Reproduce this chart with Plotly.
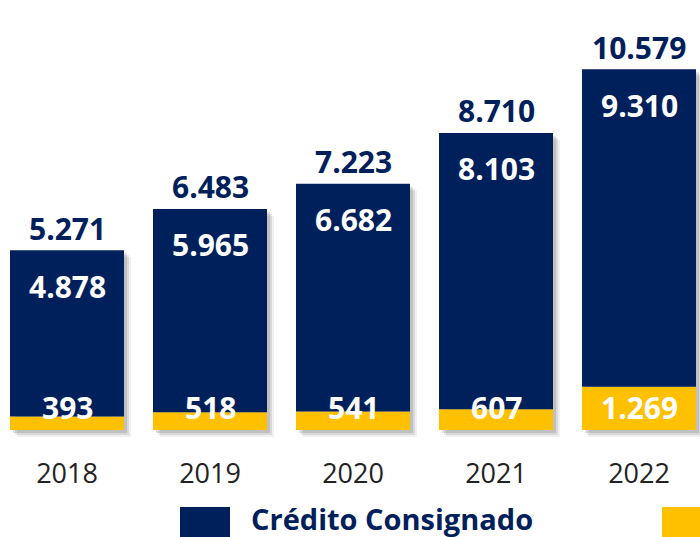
import plotly.graph_objects as go

years = ["2018", "2019", "2020", "2021", "2022"]
consignado = [4878, 5965, 6682, 8103, 9310]
outros = [393, 518, 541, 607, 1269]
totais = [5271, 6483, 7223, 8710, 10579]

def fmt(v):
    return f"{v:,}".replace(",", ".")

NAVY = "#00205B"
YELLOW = "#FFC000"
FONT = "Open Sans"

W, H = 700, 537
mb = 90
plot_h = H - mb
zero_px = 430          # pixel row of value 0
scale = 0.0341         # px per unit
ymin = -(plot_h - zero_px) / scale
ymax = zero_px / scale

cat_w = 143.0
first_c = 67.0
xr = [-first_c / cat_w, (W - first_c) / cat_w]
bw = 114 / cat_w

fig = go.Figure()

# drop shadow layers
for k, (dpx, op) in enumerate([(7, 0.08), (5, 0.12), (3, 0.16)]):
    d = dpx / scale
    fig.add_trace(go.Bar(
        x=years, y=totais, base=[-d] * len(years), width=bw,
        offset=-bw / 2 + dpx / cat_w,
        marker=dict(color=f"rgba(60,60,60,{op})", line=dict(width=0)),
        hoverinfo="skip", showlegend=False))

fig.add_trace(go.Bar(
    x=years, y=outros, base=[0] * len(years), width=bw, offset=-bw / 2,
    marker=dict(color=YELLOW, line=dict(width=0)), name="Outros", showlegend=False))
fig.add_trace(go.Bar(
    x=years, y=consignado, base=outros, width=bw, offset=-bw / 2,
    marker=dict(color=NAVY, line=dict(width=0)), name="Crédito Consignado", showlegend=False))

LBL = 30
ann = []
for i, yv in enumerate(years):
    ann.append(dict(x=i, y=totais[i], text=fmt(totais[i]), showarrow=False,
                    yanchor="middle", yshift=22,
                    font=dict(family=FONT, size=LBL, color=NAVY, weight="bold")))
    ann.append(dict(x=i, y=totais[i], text=fmt(consignado[i]), showarrow=False,
                    yanchor="middle", yshift=-36,
                    font=dict(family=FONT, size=LBL, color="white", weight="bold")))
    ann.append(dict(x=i, y=0, text=fmt(outros[i]), showarrow=False,
                    yanchor="middle", yshift=23,
                    font=dict(family=FONT, size=LBL, color="white", weight="bold")))

# custom legend
def py(px):
    return (plot_h - px) / plot_h

shapes = [
    dict(type="rect", xref="paper", yref="paper", x0=180 / W, x1=230 / W,
         y0=py(540), y1=py(507), fillcolor=NAVY, line=dict(width=0)),
    dict(type="rect", xref="paper", yref="paper", x0=662 / W, x1=720 / W,
         y0=py(540), y1=py(507), fillcolor=YELLOW, line=dict(width=0)),
]
ann.append(dict(xref="paper", yref="paper", x=249 / W, y=py(518), xanchor="left",
                yanchor="middle", text="Crédito Consignado", showarrow=False,
                font=dict(family=FONT, size=29, color=NAVY, weight="bold")))

fig.update_layout(
    width=W, height=H, barmode="overlay",
    margin=dict(l=0, r=0, t=0, b=mb, pad=0),
    paper_bgcolor="white", plot_bgcolor="white",
    xaxis=dict(type="category", range=xr, autorange=False, showgrid=False,
               zeroline=False, showline=False,
               ticks="", tickfont=dict(family=FONT, size=27, color="#222222"),
               ticklabelstandoff=8),
    yaxis=dict(range=[ymin, ymax], autorange=False, visible=False),
    annotations=ann, shapes=shapes, showlegend=False,
)

fig.write_html("out.html", config={"displayModeBar": False},
               post_script="document.body.style.margin='0px';")
